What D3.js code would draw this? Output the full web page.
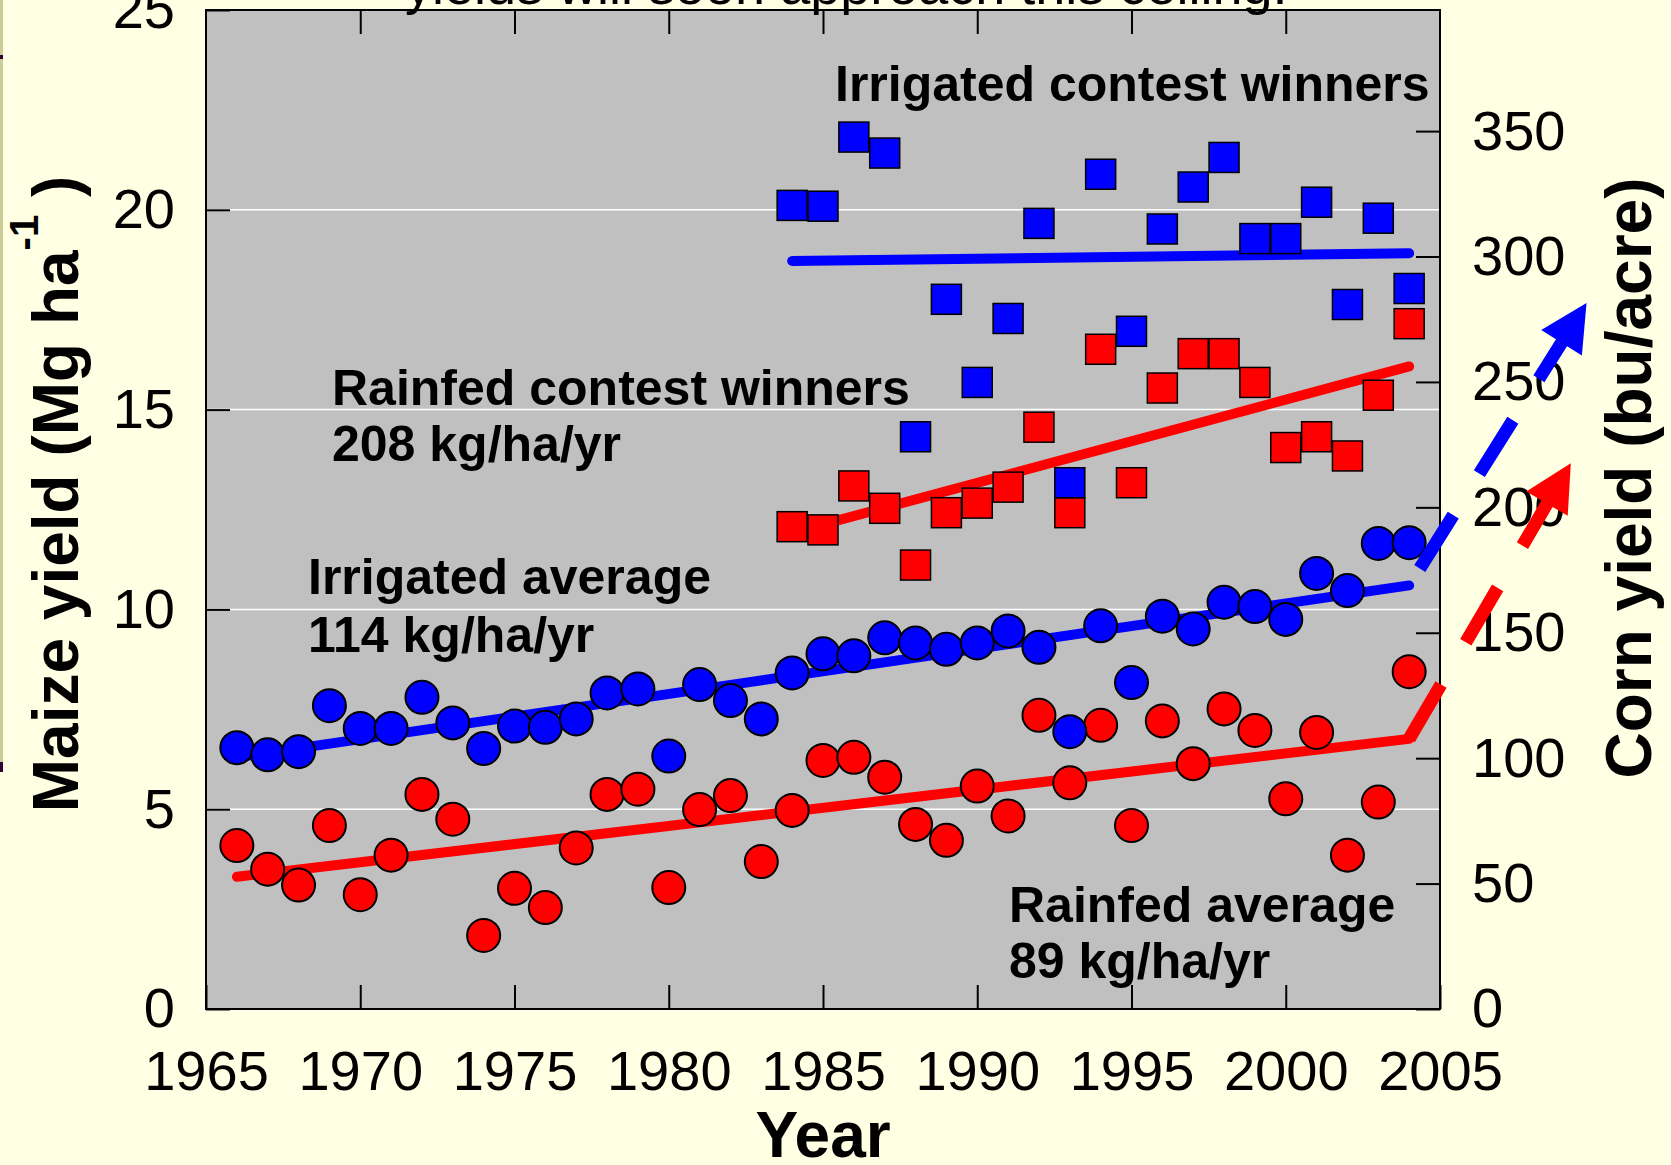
<!DOCTYPE html>
<html>
<head>
<meta charset="utf-8">
<script src="https://cdn.jsdelivr.net/npm/d3@7"></script>
<style>
  html, body { margin: 0; padding: 0; background: #FFFFE3; }
  svg { display: block; }
</style>
</head>
<body>
<div id="chart"></div>
<script>
// Data (Mg/ha)
const years = d3.range(1966, 2005);
const irrigatedAvg = [6.54, 6.36, 6.44, 7.59, 7.02, 7.02, 7.80, 7.16, 6.52, 7.08,
    7.05, 7.26, 7.91, 8.01, 6.33, 8.12, 7.72, 7.26, 8.41, 8.89,
    8.84, 9.29, 9.16, 9.00, 9.16, 9.46, 9.05, 6.94, 9.59, 8.17,
    9.83, 9.51, 10.18, 10.07, 9.75, 10.90, 10.47, 11.65, 11.67];
const rainfedAvg = [4.09, 3.50, 3.10, 4.59, 2.86, 3.85, 5.37, 4.75, 1.84, 3.02,
    2.54, 4.03, 5.37, 5.50, 3.04, 4.99, 5.34, 3.69, 4.97, 6.22,
    6.30, 5.80, 4.62, 4.22, 5.58, 4.83, 7.35, 5.66, 7.10, 4.59,
    7.21, 6.14, 7.51, 6.97, 5.26, 6.92, 3.85, 5.18, 8.44];

const contestYears = d3.range(1984, 2005);
const irrigatedWinners = [20.11, 20.09, 21.82, 21.42, 14.32, 17.76, 15.68, 17.28, 19.66, 13.17,
    20.89, 16.96, 19.52, 20.57, 21.31, 19.28, 19.28, 20.19, 17.63, 19.79, 18.03];
const rainfedWinners = [12.07, 11.99, 13.09, 12.53, 11.11, 12.42, 12.66, 13.06, 14.56, 12.42,
    16.51, 13.17, 15.54, 16.40, 16.40, 15.68, 14.05, 14.32, 13.84, 15.36, 17.15];

// Trend lines: [year, yield] end points
const irrigatedAvgTrend = [[1966, 6.30], [2004, 10.60]];
const rainfedAvgTrend = [[1966, 3.31], [2004, 6.76]];
const irrigatedWinTrend = [[1984, 18.72], [2004, 18.91]];
const rainfedWinTrend = [[1984, 11.92], [2004, 16.08]];

// Projection arrows beyond 2004
const irrigatedArrow = [[2004, 10.60], [2009.75, 17.67]];
const rainfedArrow = [[2004, 6.76], [2009.24, 13.66]];

const yTicks = [0, 5, 10, 15, 20, 25];
const yRightTicks = [0, 50, 100, 150, 200, 250, 300, 350];
const xTicks = [1965, 1970, 1975, 1980, 1985, 1990, 1995, 2000, 2005];
const buPerMg = 1 / 0.06277;

const W = 1671, H = 1165;
const plot = {left: 206, right: 1440, top: 10, bottom: 1009};
const font = "'Liberation Sans', Arial, sans-serif";

const svg = d3.select("#chart")
    .append("svg")
    .attr("width", W)
    .attr("height", H)
    .style("font-family", font);

svg.append("rect").attr("width", W).attr("height", H).attr("fill", "#FFFFE3");

// slide decoration at left edge
svg.append("rect").attr("x", 0).attr("y", 0).attr("width", 3).attr("height", 762).attr("fill", "#CCCC99");
svg.append("rect").attr("x", 0).attr("y", 55).attr("width", 3).attr("height", 4).attr("fill", "#330033");
svg.append("rect").attr("x", 0).attr("y", 762).attr("width", 3).attr("height", 10).attr("fill", "#330033");

const x = d3.scaleLinear().domain([1965, 2005]).range([plot.left, plot.right]);
const y = d3.scaleLinear().domain([0, 25]).range([plot.bottom, plot.top]);
const yRight = d3.scaleLinear().domain([0, 25 * buPerMg]).range([plot.bottom, plot.top]);

svg.append("rect")
    .attr("x", plot.left).attr("y", plot.top)
    .attr("width", plot.right - plot.left).attr("height", plot.bottom - plot.top)
    .attr("fill", "#C0C0C0");

// white grid lines
svg.append("g").selectAll("line")
    .data([5, 10, 15, 20])
    .enter().append("line")
    .attr("x1", plot.left).attr("x2", plot.right)
    .attr("y1", d => y(d)).attr("y2", d => y(d))
    .attr("stroke", "#ffffff").attr("stroke-width", 1.5);

function styleAxis(g) {
    g.select(".domain").remove();
    g.selectAll(".tick line").attr("stroke", "#000").attr("stroke-width", 2);
    g.selectAll(".tick text").attr("fill", "#000").style("font-size", "56px").style("font-family", font);
}

svg.append("g")
    .attr("transform", `translate(${plot.left},0)`)
    .call(d3.axisLeft(y).tickValues(yTicks).tickSizeInner(-24).tickSizeOuter(0).tickPadding(31))
    .call(styleAxis);

svg.append("g")
    .attr("transform", `translate(${plot.right},0)`)
    .call(d3.axisRight(yRight).tickValues(yRightTicks).tickSizeInner(-24).tickSizeOuter(0).tickPadding(32))
    .call(styleAxis);

svg.append("g")
    .attr("transform", `translate(0,${plot.bottom})`)
    .call(d3.axisBottom(x).tickValues(xTicks).tickFormat(d3.format("d"))
        .tickSizeInner(-24).tickSizeOuter(0).tickPadding(41))
    .call(styleAxis);

svg.append("g")
    .attr("transform", `translate(0,${plot.top})`)
    .call(d3.axisBottom(x).tickValues(xTicks.slice(1, -1)).tickSizeInner(24).tickSizeOuter(0).tickFormat(""))
    .call(styleAxis);

// trend lines
const line = d3.line().x(d => x(d[0])).y(d => y(d[1]));
[[irrigatedAvgTrend, "#0000FF"], [rainfedAvgTrend, "#FF0000"],
 [irrigatedWinTrend, "#0000FF"], [rainfedWinTrend, "#FF0000"]].forEach(([pts, c]) => {
    svg.append("path")
        .attr("d", line(pts))
        .attr("fill", "none")
        .attr("stroke", c)
        .attr("stroke-width", 10)
        .attr("stroke-linecap", "round");
});

// contest winners (squares)
const sq = 30;
function squares(vals, color) {
    svg.append("g").selectAll("rect")
        .data(vals.map((v, i) => [contestYears[i], v]))
        .enter().append("rect")
        .attr("x", d => x(d[0]) - sq / 2)
        .attr("y", d => y(d[1]) - sq / 2)
        .attr("width", sq).attr("height", sq)
        .attr("fill", color)
        .attr("stroke", "#000").attr("stroke-width", 1.5);
}
squares(rainfedWinners, "#FF0000");
squares(irrigatedWinners, "#0000FF");

// yearly averages (circles)
function circles(vals, color) {
    svg.append("g").selectAll("circle")
        .data(vals.map((v, i) => [years[i], v]))
        .enter().append("circle")
        .attr("cx", d => x(d[0]))
        .attr("cy", d => y(d[1]))
        .attr("r", 16.5)
        .attr("fill", color)
        .attr("stroke", "#000").attr("stroke-width", 2);
}
circles(rainfedAvg, "#FF0000");
circles(irrigatedAvg, "#0000FF");

// plot frame
svg.append("rect")
    .attr("x", plot.left).attr("y", plot.top)
    .attr("width", plot.right - plot.left).attr("height", plot.bottom - plot.top)
    .attr("fill", "none").attr("stroke", "#000").attr("stroke-width", 2);

// dashed projection arrows
function arrow(pts, color, offset) {
    const x0 = x(pts[0][0]), y0 = y(pts[0][1]);
    const x1 = x(pts[1][0]), y1 = y(pts[1][1]);
    const len = Math.hypot(x1 - x0, y1 - y0);
    const ux = (x1 - x0) / len, uy = (y1 - y0) / len;
    const head = 47, half = 24;
    const bx = x1 - ux * head, by = y1 - uy * head;
    svg.append("line")
        .attr("x1", x0).attr("y1", y0)
        .attr("x2", bx + ux * 2).attr("y2", by + uy * 2)
        .attr("stroke", color)
        .attr("stroke-width", 13)
        .attr("stroke-dasharray", "63,49")
        .attr("stroke-dashoffset", offset);
    svg.append("path")
        .attr("d", `M${x1},${y1}L${bx - uy * half},${by + ux * half}L${bx + uy * half},${by - ux * half}Z`)
        .attr("fill", color);
}
arrow(irrigatedArrow, "#0000FF", 92);
arrow(rainfedArrow, "#FF0000", 0);

// labels inside the plot
const labels = [
    {text: "Irrigated contest winners", x: 835, y: 101},
    {text: "Rainfed contest winners", x: 332, y: 405},
    {text: "208 kg/ha/yr", x: 332, y: 461},
    {text: "Irrigated average", x: 308, y: 594},
    {text: "114 kg/ha/yr", x: 308, y: 652},
    {text: "Rainfed average", x: 1009, y: 922},
    {text: "89 kg/ha/yr", x: 1009, y: 978}
];
svg.append("g").selectAll("text")
    .data(labels)
    .enter().append("text")
    .attr("x", d => d.x).attr("y", d => d.y)
    .attr("font-size", 50).attr("font-weight", "bold")
    .text(d => d.text);

// cut-off slide text at the top
svg.append("text")
    .attr("x", 405).attr("y", 4)
    .attr("font-size", 54)
    .text("yields will soon approach this ceiling.");

// axis titles
svg.append("text")
    .attr("x", (plot.left + plot.right) / 2)
    .attr("y", 1157)
    .attr("text-anchor", "middle")
    .attr("font-size", 64).attr("font-weight", "bold")
    .text("Year");

const left = svg.append("text")
    .attr("transform", "translate(78,494) rotate(-90)")
    .attr("text-anchor", "middle")
    .attr("font-size", 64).attr("font-weight", "bold");
left.append("tspan").text("Maize yield (Mg ha");
left.append("tspan").attr("font-size", 40).attr("dy", -40).text("-1");
left.append("tspan").attr("dy", 40).text(" )");

svg.append("text")
    .attr("transform", "translate(1651,478) rotate(-90)")
    .attr("text-anchor", "middle")
    .attr("font-size", 64).attr("font-weight", "bold")
    .text("Corn yield (bu/acre)");
</script>
</body>
</html>
